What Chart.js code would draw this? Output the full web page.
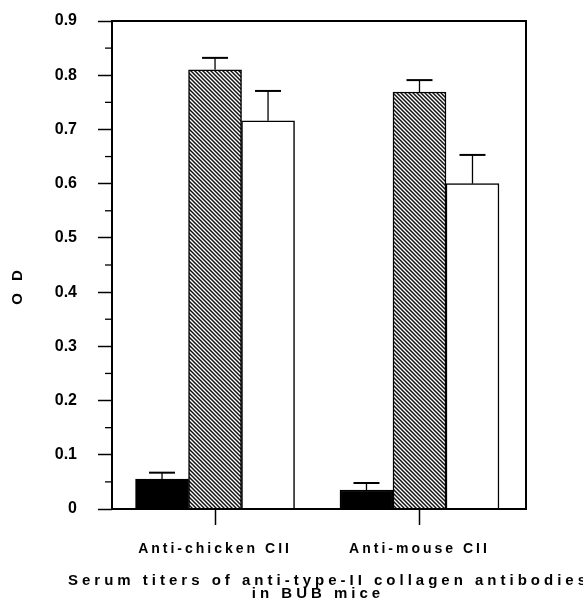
<!DOCTYPE html>
<html>
<head>
<meta charset="utf-8">
<script src="https://cdn.jsdelivr.net/npm/chart.js@4.4.0/dist/chart.umd.min.js"></script>
<style>
  html, body { margin: 0; padding: 0; background: #fff; }
  canvas { display: block; }
</style>
</head>
<body>
<canvas id="odChart" width="583" height="613"></canvas>
<script>
// groups on the x axis (linear scale, one unit per group)
const CATEGORIES = ["Anti-chicken CII", "Anti-mouse CII"];
const GROUP_X = [0, 1];

// three series per group, mean OD and upward error
const SOLID_VALUES = [0.055, 0.035];
const SOLID_ERRORS = [0.012, 0.013];
const HATCHED_VALUES = [0.810, 0.769];
const HATCHED_ERRORS = [0.022, 0.022];
const OPEN_VALUES = [0.716, 0.600];
const OPEN_ERRORS = [0.055, 0.053];

const Y_TICKS = [0, 0.1, 0.2, 0.3, 0.4, 0.5, 0.6, 0.7, 0.8, 0.9];
const Y_TICK_LABELS = ["0", "0.1", "0.2", "0.3", "0.4", "0.5", "0.6", "0.7", "0.8", "0.9"];
const Y_MINOR_TICKS = [0.05, 0.15, 0.25, 0.35, 0.45, 0.55, 0.65, 0.75, 0.85];

const X_TITLE = ["Serum titers of anti-type-II collagen antibodies", "in BUB mice"];
const Y_TITLE = "O D     ";

const FONT = "'Liberation Sans', Arial, Helvetica, sans-serif";

// letter spacing per scale part (the scan uses a wide bold face)
const SPACING = {
  x: { labels: "3px", title: "4px" },
  y: { labels: "0px", title: "4px" }
};

function makeHatch(ctx){
  const tile = document.createElement("canvas");
  tile.width = 4;
  tile.height = 4;
  const g = tile.getContext("2d");
  g.fillStyle = "#fff";
  g.fillRect(0, 0, 4, 4);
  g.strokeStyle = "#111";
  g.lineWidth = 1.5;
  g.beginPath();
  g.moveTo(-1, -1); g.lineTo(5, 5);
  g.moveTo(-1, 3); g.lineTo(1, 5);
  g.moveTo(3, -1); g.lineTo(5, 1);
  g.stroke();
  return ctx.createPattern(tile, "repeat");
}

const spacingPlugin = {
  id: "spacing",
  beforeDraw(chart){
    const ctx = chart.ctx;
    Object.keys(SPACING).forEach(id => {
      const scale = chart.scales[id];
      if(!scale || scale._spaced) return;
      [["drawLabels", "labels"], ["drawTitle", "title"]].forEach(([fn, part]) => {
        const orig = scale[fn];
        scale[fn] = function(...args){
          ctx.letterSpacing = SPACING[id][part];
          orig.apply(this, args);
          ctx.letterSpacing = "0px";
        };
      });
      scale._spaced = true;
    });
  }
};

const errorBarPlugin = {
  id: "errorBars",
  afterDatasetsDraw(chart){
    const ctx = chart.ctx;
    const yScale = chart.scales.y;
    ctx.save();
    ctx.strokeStyle = "#000";
    chart.data.datasets.forEach((ds, i) => {
      const meta = chart.getDatasetMeta(i);
      meta.data.forEach((bar, j) => {
        const top = yScale.getPixelForValue(ds.data[j].y + ds.errors[j]);
        ctx.lineWidth = 1.3;
        ctx.beginPath();
        ctx.moveTo(bar.x, bar.y);
        ctx.lineTo(bar.x, top);
        ctx.stroke();
        ctx.lineWidth = 2;
        ctx.beginPath();
        ctx.moveTo(bar.x - 13, top);
        ctx.lineTo(bar.x + 13, top);
        ctx.stroke();
      });
    });
    ctx.restore();
  }
};

// box round the plot, minor y ticks, and the two-line x title
// (drawn here because the axis title gets squeezed to the axis width)
const framePlugin = {
  id: "frame",
  afterDraw(chart){
    const ctx = chart.ctx;
    const a = chart.chartArea;
    const yScale = chart.scales.y;
    ctx.save();
    ctx.strokeStyle = "#000";
    ctx.lineWidth = 2;
    ctx.strokeRect(a.left, a.top, a.right - a.left, a.bottom - a.top);
    ctx.lineWidth = 1.3;
    Y_MINOR_TICKS.forEach(v => {
      const y = yScale.getPixelForValue(v);
      ctx.beginPath();
      ctx.moveTo(a.left - 7, y);
      ctx.lineTo(a.left, y);
      ctx.stroke();
    });

    const cx = (a.left + a.right) / 2;
    ctx.fillStyle = "#000";
    ctx.font = "bold 15px " + FONT;
    ctx.letterSpacing = SPACING.x.title;
    ctx.textAlign = "center";
    ctx.textBaseline = "middle";
    ctx.fillText(X_TITLE[0], cx + 10, a.bottom + 72);
    ctx.fillText(X_TITLE[1], cx - 1, a.bottom + 85);
    ctx.restore();
  }
};

const canvas = document.getElementById("odChart");
const hatch = makeHatch(canvas.getContext("2d"));

const toPoints = values => GROUP_X.map((x, i) => ({ x, y: values[i] }));

new Chart(canvas, {
  type: "bar",
  data: {
    datasets: [
      {
        data: toPoints(SOLID_VALUES),
        errors: SOLID_ERRORS,
        backgroundColor: "#000",
        borderColor: "#000",
        borderWidth: 1.5,
        barThickness: 53
      },
      {
        data: toPoints(HATCHED_VALUES),
        errors: HATCHED_ERRORS,
        backgroundColor: hatch,
        borderColor: "#000",
        borderWidth: 1.5,
        barThickness: 53
      },
      {
        data: toPoints(OPEN_VALUES),
        errors: OPEN_ERRORS,
        backgroundColor: "#fff",
        borderColor: "#000",
        borderWidth: 1.5,
        barThickness: 53
      }
    ]
  },
  options: {
    responsive: false,
    animation: false,
    events: [],
    layout: { padding: { left: 0, right: 57, top: 21, bottom: 0 } },
    plugins: {
      legend: { display: false },
      tooltip: { enabled: false }
    },
    scales: {
      x: {
        type: "linear",
        min: -0.504,
        max: 1.521,
        offset: false,
        afterBuildTicks: s => { s.ticks = GROUP_X.map(v => ({ value: v })); },
        afterFit: s => { s.height = 104; },
        ticks: {
          callback: v => CATEGORIES[GROUP_X.indexOf(v)],
          autoSkip: false,
          maxRotation: 0,
          padding: 16,
          color: "#000",
          font: { family: FONT, size: 14, weight: "bold" }
        },
        grid: { offset: false, drawOnChartArea: false, tickLength: 16, tickWidth: 1.5, tickColor: "#000" },
        border: { display: false }
      },
      y: {
        min: 0,
        max: 0.9,
        afterBuildTicks: s => { s.ticks = Y_TICKS.map(v => ({ value: v })); },
        afterFit: s => {
          s.width = 112;
          s.paddingTop = 0;
          s.paddingBottom = 0;
        },
        ticks: {
          callback: (v, i) => Y_TICK_LABELS[i],
          padding: 21,
          color: "#000",
          font: { family: FONT, size: 16, weight: "bold" }
        },
        grid: { drawOnChartArea: false, tickLength: 14, tickWidth: 1.5, tickColor: "#000" },
        border: { display: false },
        title: {
          display: true,
          text: Y_TITLE,
          color: "#000",
          font: { family: FONT, size: 15, weight: "bold" },
          padding: { top: 9, bottom: 0 }
        }
      }
    }
  },
  plugins: [spacingPlugin, errorBarPlugin, framePlugin]
});
</script>
</body>
</html>
